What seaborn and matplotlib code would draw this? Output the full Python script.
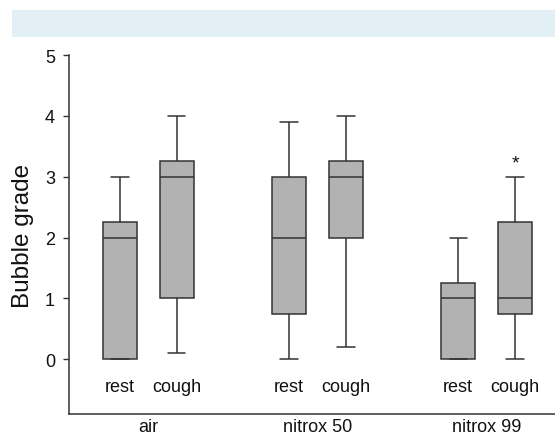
import matplotlib
matplotlib.use("Agg")
import matplotlib.pyplot as plt
import seaborn as sns
import pandas as pd
from matplotlib.patches import Rectangle

sns.set_theme(style="ticks")
plt.rcParams['font.family'] = ['Liberation Sans', 'DejaVu Sans']

groups = ["air", "nitrox 50", "nitrox 99"]
conditions = ["rest", "cough"]
# five-number summaries (min, q1, median, q3, max)
air_rest = [0, 0, 2, 2.25, 3]
air_cough = [0.1, 1, 3, 3.25, 4]
n50_rest = [0, 0.75, 2, 3, 3.9]
n50_cough = [0.2, 2, 3, 3.25, 4]
n99_rest = [0, 0, 1, 1.25, 2]
n99_cough = [0, 0.75, 1, 2.25, 3]
significant = [("nitrox 99", "cough", 3.22)]

series = {
    ("air", "rest"): air_rest, ("air", "cough"): air_cough,
    ("nitrox 50", "rest"): n50_rest, ("nitrox 50", "cough"): n50_cough,
    ("nitrox 99", "rest"): n99_rest, ("nitrox 99", "cough"): n99_cough,
}
rows = []
for (g, c), vals in series.items():
    for v in vals:
        rows.append({"group": g, "condition": c, "grade": v})
df = pd.DataFrame(rows)

fig = plt.figure(figsize=(5.55, 4.39), dpi=100)
fig.patches.append(Rectangle((12 / 555, 1 - 38 / 439), 543 / 555, 27 / 439,
                             transform=fig.transFigure, facecolor="#e2f0f5",
                             edgecolor="none", zorder=0))
ax = fig.add_axes([69 / 555, 24 / 439, (555 - 69) / 555, (415 - 56) / 439])

sns.boxplot(data=df, x="group", y="grade", hue="condition", order=groups,
            hue_order=conditions, whis=(0, 100), width=0.674, gap=0.4,
            palette=["#b2b2b2", "#b2b2b2"], linecolor="#333333", linewidth=1.1,
            fliersize=0, legend=False, ax=ax,
            medianprops={"color": "#333333", "linewidth": 1.1})

ax.set_ylim(-0.9, 5)
ax.set_xlim(-0.47, 2.405)
ax.set_yticks([0, 1, 2, 3, 4, 5])
ax.set_xlabel("")
ax.set_ylabel("Bubble grade", fontsize=17.5, labelpad=8, color="#111111")
ax.tick_params(axis="y", labelsize=13, length=4, width=1, color="#333333", pad=6,
               labelcolor="#111111")
ax.tick_params(axis="x", labelsize=13, length=0, pad=3, labelcolor="#111111")
for s in ["top", "right"]:
    ax.spines[s].set_visible(False)
for s in ["left", "bottom"]:
    ax.spines[s].set_color("#333333")
    ax.spines[s].set_linewidth(1.1)

off = 0.1685
for i, g in enumerate(groups):
    for j, c in enumerate(conditions):
        x = i + (-off if j == 0 else off)
        ax.text(x, -0.45, c, ha="center", va="center", fontsize=13, color="#111111")
for g, c, y in significant:
    x = groups.index(g) + (off if c == "cough" else -off)
    ax.text(x, y, "*", ha="center", va="center", fontsize=14, color="#111111")

fig.savefig("out.png", dpi=100)
